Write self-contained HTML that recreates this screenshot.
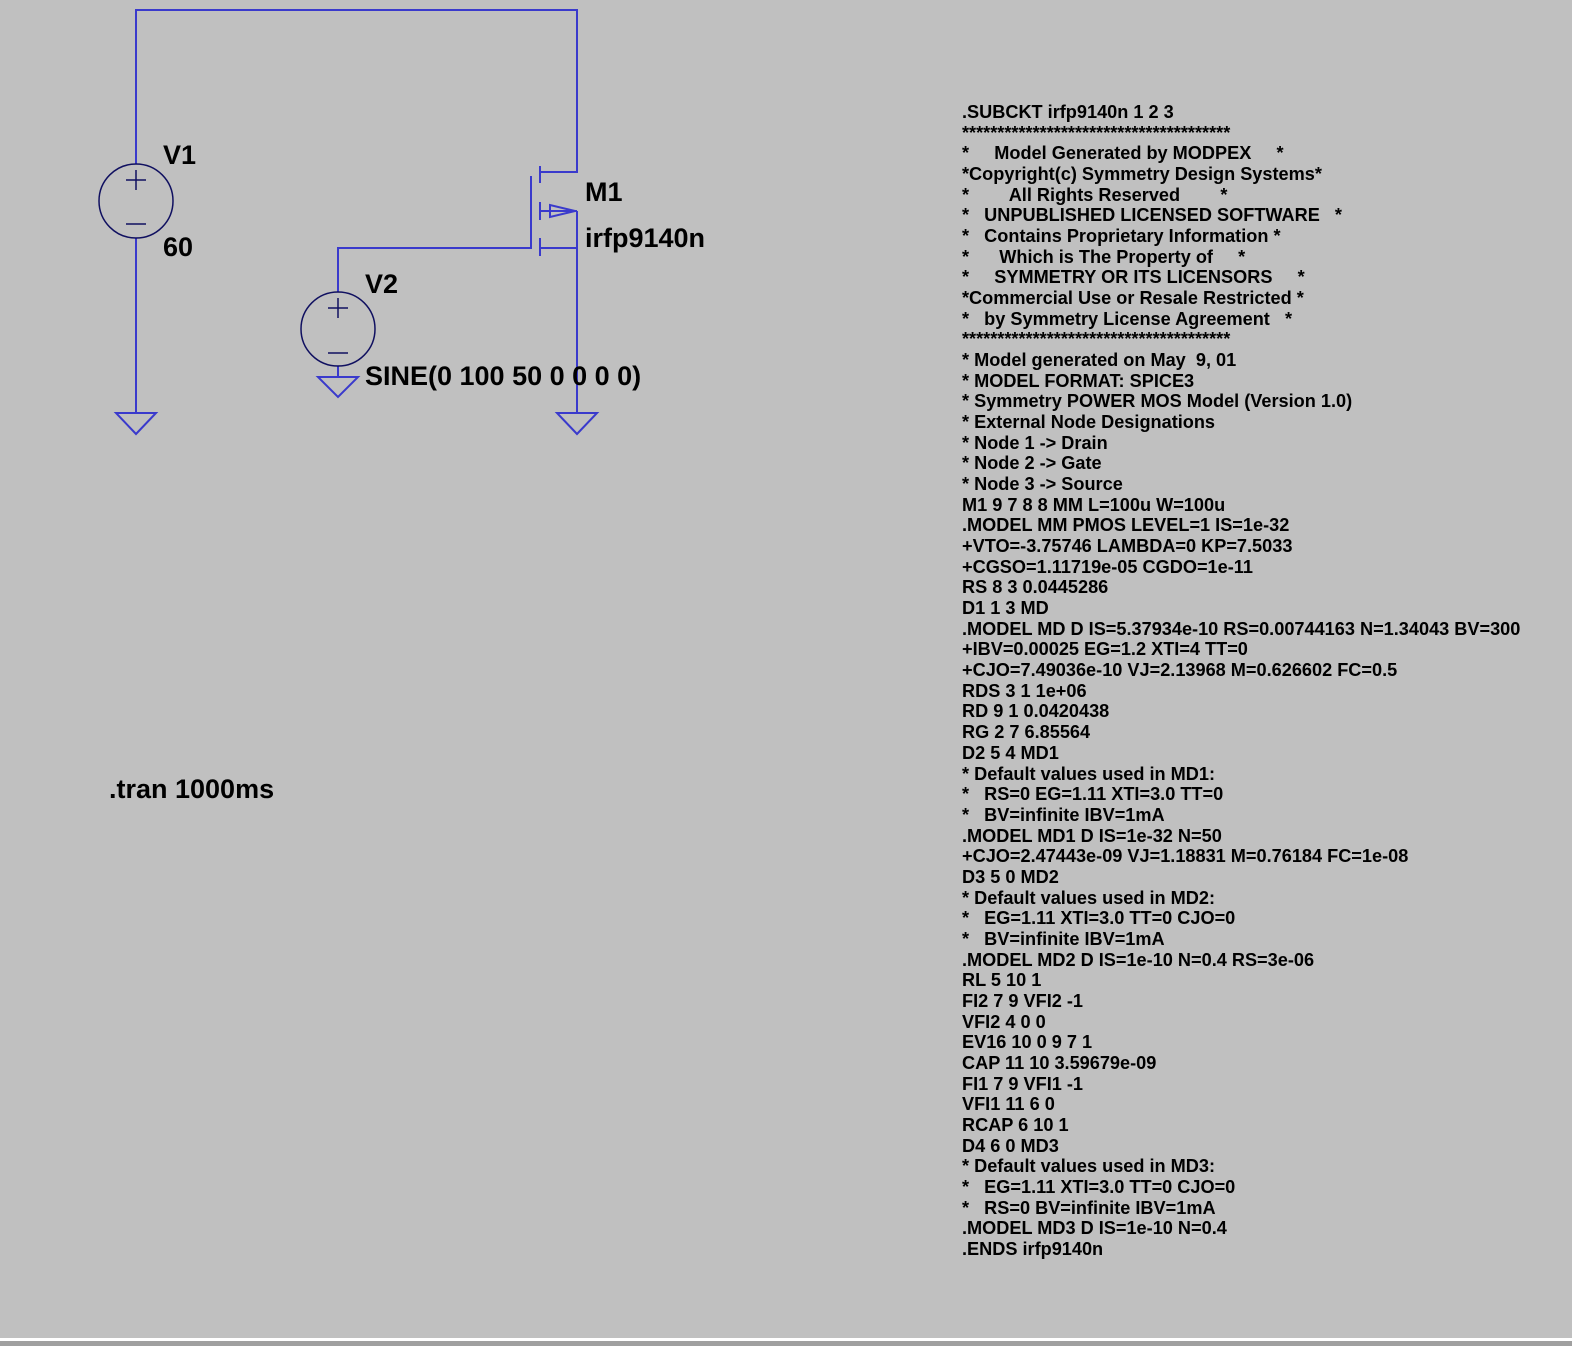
<!DOCTYPE html>
<html><head><style>
html,body{margin:0;padding:0}
body{width:1572px;height:1346px;background:#c0c0c0;position:relative;overflow:hidden;font-family:"Liberation Sans",Arial,sans-serif;font-weight:bold;color:#000}
svg{position:absolute;left:0;top:0}
.l{position:absolute;font-size:27px;line-height:27px;white-space:pre}
pre{position:absolute;left:962px;top:102px;margin:0;font-family:"Liberation Sans",Arial,sans-serif;font-weight:bold;font-size:18.15px;line-height:20.67px}
</style></head><body>
<svg width="1572" height="1346">
<g stroke="#3a3acc" stroke-width="2" fill="none">
<polyline points="136,164 136,10 577,10 577,172 540,172"/>
<line x1="136" y1="238" x2="136" y2="412"/>
<polygon points="116,413 156,413 136,434"/>
<polygon points="557,413 597,413 577,434"/>
<line x1="577" y1="211" x2="577" y2="412"/>
<line x1="540" y1="248" x2="577" y2="248"/>
<line x1="540" y1="211" x2="577" y2="211"/>
<polygon points="550,205 550,217 575,211"/>
<polyline points="338,292 338,248 531,248 531,176"/>
<line x1="540" y1="166" x2="540" y2="183"/>
<line x1="540" y1="202" x2="540" y2="220"/>
<line x1="540" y1="238" x2="540" y2="256"/>
<line x1="338" y1="366" x2="338" y2="377"/>
<polygon points="318,377 358,377 338,397"/>
</g>
<g stroke="#101060" stroke-width="1.5" fill="none">
<circle cx="136" cy="201" r="37"/>
<line x1="126" y1="180" x2="146" y2="180"/><line x1="136" y1="170" x2="136" y2="190"/>
<line x1="126" y1="224" x2="146" y2="224"/>
<circle cx="338" cy="329" r="37"/>
<line x1="328" y1="308" x2="348" y2="308"/><line x1="338" y1="298" x2="338" y2="318"/>
<line x1="328" y1="353" x2="348" y2="353"/>
</g>
<rect x="0" y="1338" width="1572" height="3" fill="#ffffff"/>
<rect x="0" y="1341" width="1572" height="5" fill="#a0a0a0"/>
</svg>
<div class="l" style="left:163px;top:142px">V1</div>
<div class="l" style="left:163px;top:234px">60</div>
<div class="l" style="left:585px;top:179px">M1</div>
<div class="l" style="left:585px;top:225px">irfp9140n</div>
<div class="l" style="left:365px;top:271px">V2</div>
<div class="l" style="left:365px;top:363px">SINE(0 100 50 0 0 0 0)</div>
<div class="l" style="left:109px;top:776px">.tran 1000ms</div>
<pre>.SUBCKT irfp9140n 1 2 3
**************************************
*     Model Generated by MODPEX     *
*Copyright(c) Symmetry Design Systems*
*        All Rights Reserved        *
*   UNPUBLISHED LICENSED SOFTWARE   *
*   Contains Proprietary Information *
*      Which is The Property of     *
*     SYMMETRY OR ITS LICENSORS     *
*Commercial Use or Resale Restricted *
*   by Symmetry License Agreement   *
**************************************
* Model generated on May  9, 01
* MODEL FORMAT: SPICE3
* Symmetry POWER MOS Model (Version 1.0)
* External Node Designations
* Node 1 -> Drain
* Node 2 -> Gate
* Node 3 -> Source
M1 9 7 8 8 MM L=100u W=100u
.MODEL MM PMOS LEVEL=1 IS=1e-32
+VTO=-3.75746 LAMBDA=0 KP=7.5033
+CGSO=1.11719e-05 CGDO=1e-11
RS 8 3 0.0445286
D1 1 3 MD
.MODEL MD D IS=5.37934e-10 RS=0.00744163 N=1.34043 BV=300
+IBV=0.00025 EG=1.2 XTI=4 TT=0
+CJO=7.49036e-10 VJ=2.13968 M=0.626602 FC=0.5
RDS 3 1 1e+06
RD 9 1 0.0420438
RG 2 7 6.85564
D2 5 4 MD1
* Default values used in MD1:
*   RS=0 EG=1.11 XTI=3.0 TT=0
*   BV=infinite IBV=1mA
.MODEL MD1 D IS=1e-32 N=50
+CJO=2.47443e-09 VJ=1.18831 M=0.76184 FC=1e-08
D3 5 0 MD2
* Default values used in MD2:
*   EG=1.11 XTI=3.0 TT=0 CJO=0
*   BV=infinite IBV=1mA
.MODEL MD2 D IS=1e-10 N=0.4 RS=3e-06
RL 5 10 1
FI2 7 9 VFI2 -1
VFI2 4 0 0
EV16 10 0 9 7 1
CAP 11 10 3.59679e-09
FI1 7 9 VFI1 -1
VFI1 11 6 0
RCAP 6 10 1
D4 6 0 MD3
* Default values used in MD3:
*   EG=1.11 XTI=3.0 TT=0 CJO=0
*   RS=0 BV=infinite IBV=1mA
.MODEL MD3 D IS=1e-10 N=0.4
.ENDS irfp9140n</pre>
</body></html>
